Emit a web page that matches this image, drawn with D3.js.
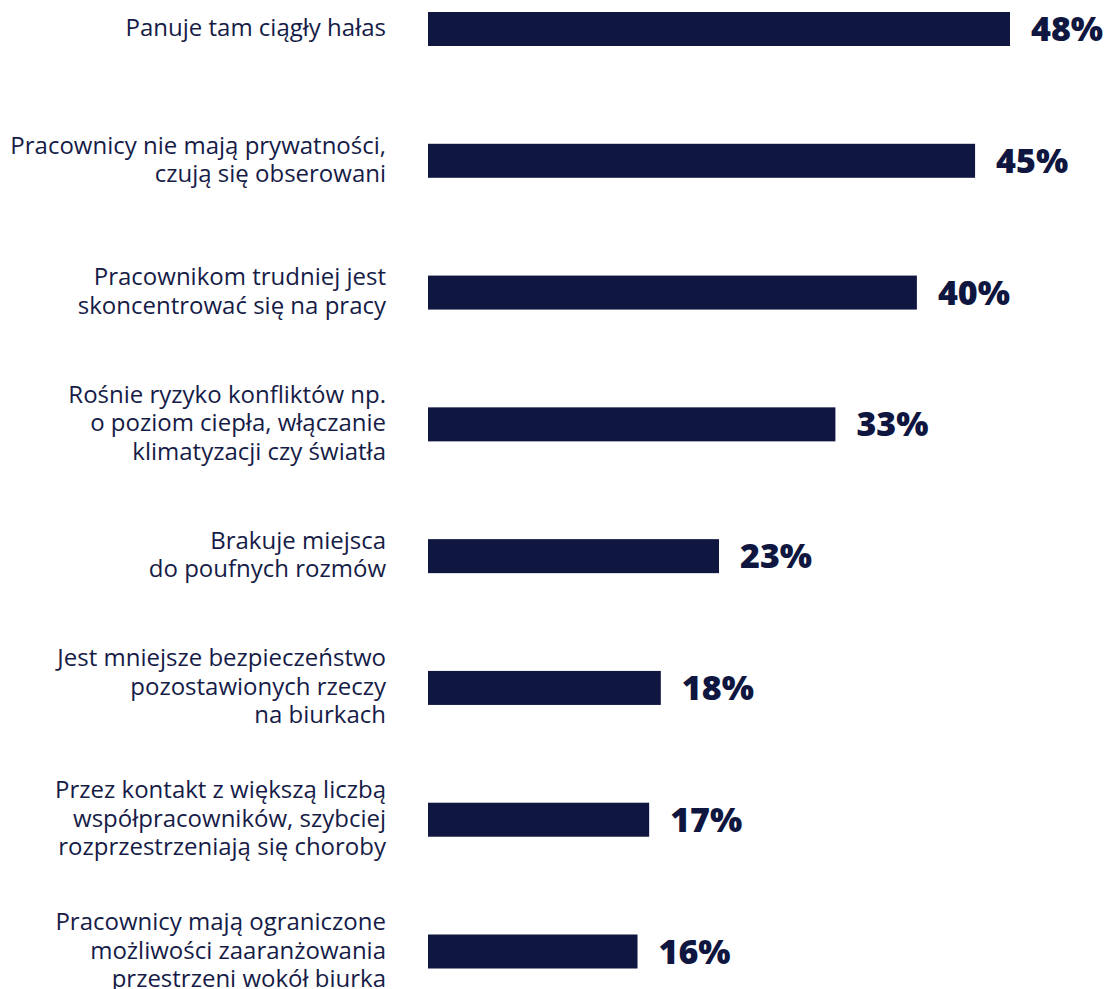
<!DOCTYPE html>
<html lang="pl">
<head>
<meta charset="utf-8">
<script src="https://cdn.jsdelivr.net/npm/d3@7/dist/d3.min.js"></script>
<style>
  html, body { margin: 0; padding: 0; background: #ffffff; }
  svg { display: block; }
</style>
</head>
<body>
<svg id="chart" width="1114" height="989"></svg>
<script>
// Reasons given, one line break per "\n"
const categories = [
  "Panuje tam ciągły hałas",
  "Pracownicy nie mają prywatności,\nczują się obserowani",
  "Pracownikom trudniej jest\nskoncentrować się na pracy",
  "Rośnie ryzyko konfliktów np.\no poziom ciepła, włączanie\nklimatyzacji czy światła",
  "Brakuje miejsca\ndo poufnych rozmów",
  "Jest mniejsze bezpieczeństwo\npozostawionych rzeczy\nna biurkach",
  "Przez kontakt z większą liczbą\nwspółpracowników, szybciej\nrozprzestrzeniają się choroby",
  "Pracownicy mają ograniczone\nmożliwości zaaranżowania\nprzestrzeni wokół biurka"
];
const values = [48, 45, 40, 33, 23, 18, 17, 16];
const valueLabels = ["48%", "45%", "40%", "33%", "23%", "18%", "17%", "16%"];

const navy = "#0f1640";
const barHeight = 34;

const svg = d3.select("#chart");

// Bars grow from the left edge of the range
const x = d3.scaleLinear().domain([-2, 48]).range([428, 1010]);
const barLeft = x.range()[0];
const y = d3.scalePoint().domain(categories).range([29, 951.5]);

const rows = svg.selectAll("g.row")
  .data(categories.map((c, i) => ({ c, v: values[i], label: valueLabels[i] })))
  .join("g")
  .attr("class", "row");

rows.append("rect")
  .attr("x", barLeft)
  .attr("y", d => y(d.c) - barHeight / 2)
  .attr("width", d => x(d.v) - barLeft)
  .attr("height", barHeight)
  .attr("fill", navy);

rows.append("text")
  .attr("x", d => x(d.v) + 21)
  .attr("y", d => y(d.c) + 12)
  .attr("font-family", "'Open Sans', sans-serif")
  .attr("font-weight", 800)
  .attr("font-size", 34)
  .attr("fill", navy)
  .text(d => d.label);

const lineHeight = 28.5;
rows.append("text")
  .attr("text-anchor", "end")
  .attr("font-family", "'Open Sans', sans-serif")
  .attr("font-size", 24)
  .attr("fill", "#161c47")
  .each(function (d) {
    const lines = d.c.split("\n");
    const t = d3.select(this);
    const y0 = y(d.c) - (lines.length - 1) * lineHeight / 2 + 7;
    lines.forEach((ln, k) => {
      t.append("tspan")
        .attr("x", 386)
        .attr("y", y0 + k * lineHeight)
        .text(ln);
    });
  });
</script>
</body>
</html>
